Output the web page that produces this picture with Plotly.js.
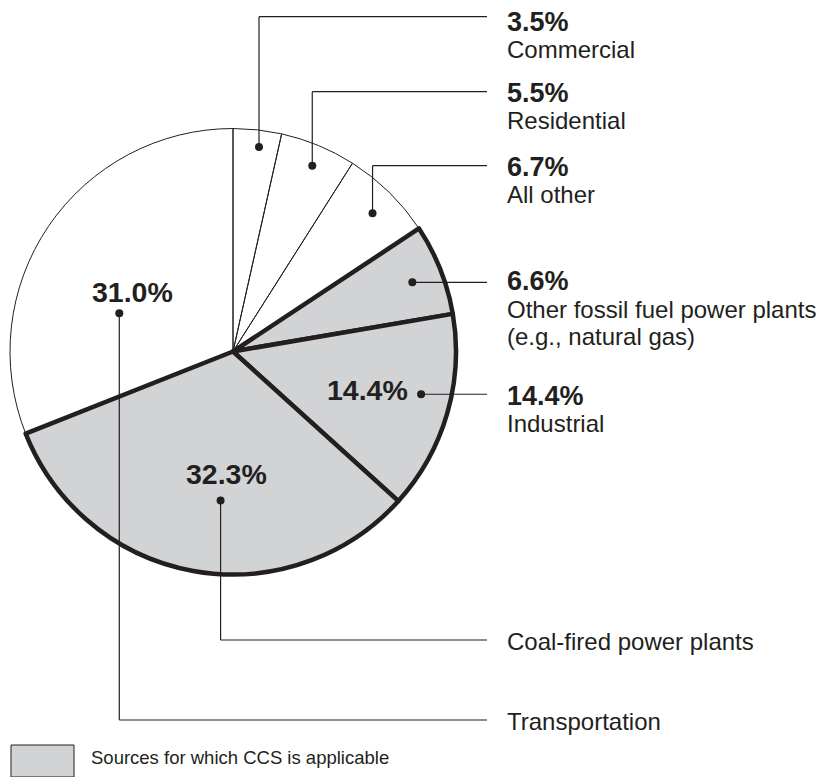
<!DOCTYPE html>
<html>
<head>
<meta charset="utf-8">
<script src="https://cdn.plot.ly/plotly-3.0.1.min.js"></script>
<style>
  html, body { margin: 0; padding: 0; background: #ffffff; }
  #chart { width: 820px; height: 777px; }
</style>
</head>
<body>
<div id="chart"></div>
<script>
// ---- data ----
const categories = ['Commercial', 'Residential', 'All other',
  'Other fossil fuel power plants', 'Industrial', 'Coal-fired power plants', 'Transportation'];
const categoryLines = [['Commercial'], ['Residential'], ['All other'],
  ['Other fossil fuel power plants', '(e.g., natural gas)'], ['Industrial'],
  ['Coal-fired power plants'], ['Transportation']];
const shares = [3.5, 5.5, 6.7, 6.6, 14.4, 32.3, 31.0];
const shareLabels = ['3.5%', '5.5%', '6.7%', '6.6%', '14.4%', '32.3%', '31.0%'];
const ccsApplicable = [false, false, false, true, true, true, false];
const legendText = 'Sources for which CCS is applicable';

// ---- layout / style ----
const W = 820, H = 777;
const cx = 233, cy = 351.5, R = 223;
const INK = '#231f20';
const GRAY = '#d1d3d4';
const FONT = 'Liberation Sans, Arial, Helvetica, sans-serif';

// per-label callout placement (rf: radius fraction of dot, da: angle nudge in deg)
const callout = [
  { rf: 0.924, da: 0.95, elbowY: 16.7, pctY: 21.5, nameY: [49.5], pieLabel: null },
  { rf: 0.906, da: 0.6, elbowY: 91.7, pctY: 92.5, nameY: [120.5], pieLabel: null },
  { rf: 0.881, da: 0.8, elbowY: 165.7, pctY: 166.5, nameY: [194.5], pieLabel: null },
  { rf: 0.862, da: 0.5, elbowY: null, pctY: 281, nameY: [309, 336.5], pieLabel: null },
  { rf: 0.865, da: -3.4, elbowY: null, pctY: 395.5, nameY: [423.5], pieLabel: [367, 389.5] },
  { rf: 0.671, da: -5.5, elbowY: 640, pctY: null, nameY: [641], pieLabel: [226.7, 473.7] },
  { rf: 0.538, da: -15.6, elbowY: 720, pctY: null, nameY: [721], pieLabel: [132.8, 291.7] }
];
const lineEndX = 487;
const textX = 506;

const px = x => x / W;
const py = y => 1 - y / H;

const total = shares.reduce((a, b) => a + b, 0);
const shapes = [];
const annotations = [];

let cum = 0;
shares.forEach((v, i) => {
  const mid = (cum + v / 2) / total * 360;
  cum += v;
  const c = callout[i];
  const th = (mid + c.da) * Math.PI / 180;
  const r = R * c.rf;
  const dx = cx + r * Math.sin(th);
  const dy = cy - r * Math.cos(th);
  const lineStyle = { color: INK, width: 1.2 };
  if (c.elbowY === null) {
    shapes.push({ type: 'line', xref: 'paper', yref: 'paper',
      x0: px(dx), y0: py(dy), x1: px(lineEndX), y1: py(dy), line: lineStyle });
  } else {
    shapes.push({ type: 'line', xref: 'paper', yref: 'paper',
      x0: px(dx), y0: py(dy), x1: px(dx), y1: py(c.elbowY), line: lineStyle });
    shapes.push({ type: 'line', xref: 'paper', yref: 'paper',
      x0: px(dx), y0: py(c.elbowY), x1: px(lineEndX), y1: py(c.elbowY), line: lineStyle });
  }
  const dr = 4;
  shapes.push({ type: 'circle', xref: 'paper', yref: 'paper',
    x0: px(dx - dr), x1: px(dx + dr), y0: py(dy - dr), y1: py(dy + dr),
    fillcolor: INK, line: { color: INK, width: 0 } });

  if (c.pctY !== null) {
    annotations.push({ xref: 'paper', yref: 'paper', x: px(textX), y: py(c.pctY),
      xanchor: 'left', yanchor: 'middle', showarrow: false, borderpad: 0,
      text: '<b>' + shareLabels[i] + '</b>',
      font: { family: FONT, size: 27, color: INK } });
  }
  categoryLines[i].forEach((t, k) => {
    annotations.push({ xref: 'paper', yref: 'paper', x: px(textX), y: py(c.nameY[k]),
      xanchor: 'left', yanchor: 'middle', showarrow: false, borderpad: 0, text: t,
      font: { family: FONT, size: 24, color: INK } });
  });
  if (c.pieLabel) {
    annotations.push({ xref: 'paper', yref: 'paper', x: px(c.pieLabel[0]), y: py(c.pieLabel[1]),
      xanchor: 'center', yanchor: 'middle', showarrow: false, borderpad: 0,
      text: '<b>' + shareLabels[i] + '</b>',
      font: { family: FONT, size: 28.5, color: INK } });
  }
});

// legend swatch
shapes.push({ type: 'rect', xref: 'paper', yref: 'paper',
  x0: px(11), x1: px(74), y0: py(745), y1: py(777),
  fillcolor: GRAY, line: { color: INK, width: 1 } });
annotations.push({ xref: 'paper', yref: 'paper', x: px(90), y: py(757.5),
  xanchor: 'left', yanchor: 'middle', showarrow: false, borderpad: 0, text: legendText,
  font: { family: FONT, size: 18.5, color: INK } });

const trace = {
  type: 'pie',
  labels: categories,
  values: shares,
  sort: false,
  direction: 'clockwise',
  rotation: 0,
  textinfo: 'none',
  hoverinfo: 'label+percent',
  showlegend: false,
  domain: { x: [px(cx - R), px(cx + R)], y: [py(cy + R), py(cy - R)] },
  marker: {
    colors: ccsApplicable.map(b => b ? GRAY : 'rgba(0,0,0,0)'),
    line: { color: INK, width: ccsApplicable.map(b => b ? 4.5 : 1) }
  }
};

const layout = {
  width: W, height: H,
  margin: { l: 0, r: 0, t: 0, b: 0 },
  paper_bgcolor: '#ffffff',
  plot_bgcolor: '#ffffff',
  showlegend: false,
  shapes: shapes,
  annotations: annotations
};

Plotly.newPlot('chart', [trace], layout, { displayModeBar: false, staticPlot: true });
</script>
</body>
</html>
